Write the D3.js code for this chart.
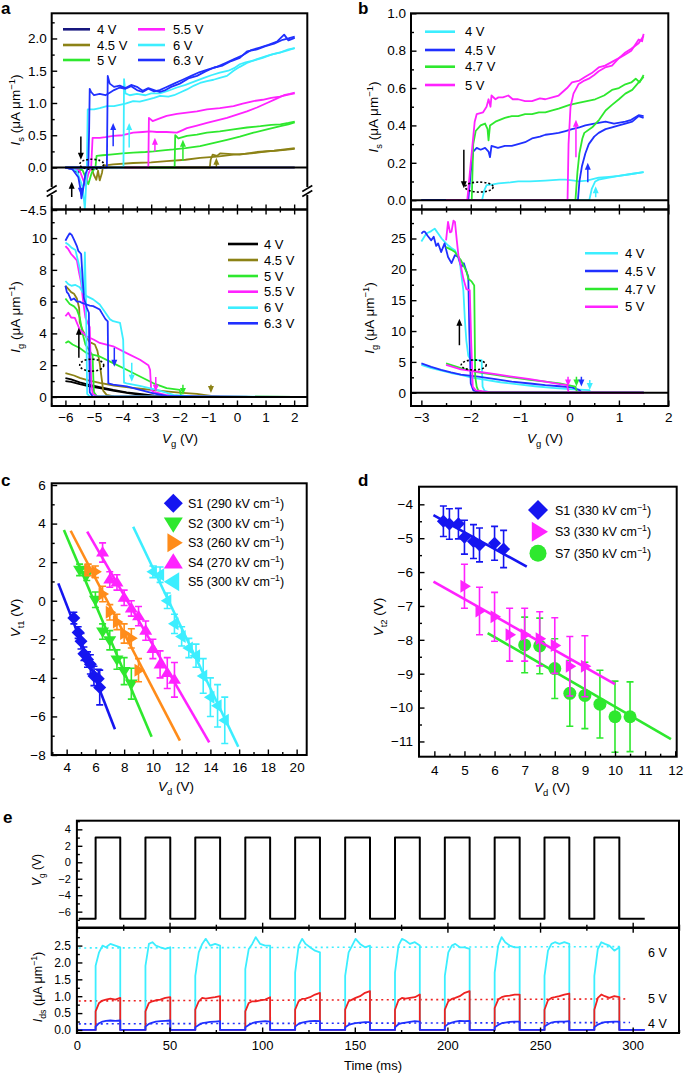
<!DOCTYPE html>
<html>
<head>
<meta charset="utf-8">
<script src="https://cdn.jsdelivr.net/npm/d3@7"></script>
<style>
  body { margin: 0; background: #fff; }
  text { font-family: "Liberation Sans", Arial, Helvetica, sans-serif; }
</style>
</head>
<body>
<div id="chart"></div>
<script>
// ---------- colours ----------
var cNavy = "#16167e", cOlive = "#8c8216", cGreen = "#2ee82e", cMagenta = "#ff22ff",
    cCyan = "#3ceeff", cBlue = "#2030ff", cOrange = "#ff8c1a", cRed = "#ee2222";

// ---------- panel a, I_s vs V_g (two sweep branches per drain bias) ----------
var aIs4 = [[-6,0],[-5.75,-0.02],[-5.55,-0.08],[-5.4,0],[2.02,0]];
var aIs45A = [[-6,0],[-5.1,0],[-5.0,-0.12],[-4.92,-0.19],[-4.86,-0.05],[-4.8,-0.2],[-4.72,-0.08],[-4.68,0.03],[-4.33,0.05],[-3.63,0.07],[-3.0,0.08],[-2.46,0.1],[-1.8,0.12],[-1.29,0.15],[-0.7,0.17],[-0.12,0.2],[0.5,0.22],[1.05,0.25],[1.6,0.27],[2.02,0.29]];
var aIs45B = [[-6,0],[-0.95,0],[-0.92,0.12],[-0.85,0.2],[-0.7,0.18],[-0.58,0.22],[0.1,0.2],[0.7,0.24],[1.3,0.26],[2.02,0.3]];
var aIs5A = [[-6,0],[-5.4,-0.04],[-5.2,-0.26],[-5.08,-0.08],[-4.95,0],[-4.91,0.18],[-4.7,0.19],[-4.44,0.2],[-4.0,0.22],[-3.63,0.23],[-3.2,0.24],[-2.92,0.25],[-2.5,0.27],[-2.22,0.28],[-1.8,0.3],[-1.29,0.33],[-0.8,0.38],[-0.35,0.43],[0.1,0.48],[0.58,0.54],[1.05,0.59],[1.52,0.64],[1.8,0.67],[2.02,0.7]];
var aIs5B = [[-6,0],[-2.18,0],[-2.16,0.5],[-2.05,0.45],[-1.99,0.46],[-1.75,0.49],[-1.4,0.51],[-1.05,0.54],[-0.6,0.56],[-0.12,0.59],[0.35,0.62],[0.82,0.64],[1.2,0.66],[1.52,0.67],[1.8,0.69],[2.02,0.71]];
var aIs55A = [[-6,0],[-5.5,-0.05],[-5.3,-0.28],[-5.2,-0.1],[-5.1,0],[-5.05,0.46],[-4.8,0.46],[-4.6,0.47],[-4.33,0.49],[-4.0,0.5],[-3.63,0.54],[-3.3,0.55],[-3.04,0.56],[-2.8,0.55],[-2.46,0.55],[-2.1,0.54],[-1.9,0.58],[-1.75,0.61],[-1.4,0.65],[-1.05,0.69],[-0.7,0.73],[-0.35,0.77],[0,0.82],[0.35,0.87],[0.7,0.93],[1.05,1.0],[1.35,1.06],[1.64,1.12],[1.85,1.14],[2.02,1.16]];
var aIs55B = [[-6,0],[-3.1,0],[-3.08,0.77],[-2.95,0.72],[-2.7,0.76],[-2.46,0.8],[-2.1,0.83],[-1.75,0.85],[-1.4,0.87],[-1.05,0.9],[-0.6,0.92],[-0.12,0.95],[0.2,0.99],[0.58,1.03],[0.9,1.05],[1.2,1.08],[1.5,1.1],[1.8,1.13],[2.02,1.15]];
var aIs6A = [[-6,0],[-5.6,-0.05],[-5.4,-0.3],[-5.32,-4.3],[-5.28,-0.3],[-5.25,0],[-5.22,0.9],[-5.0,0.9],[-4.8,0.92],[-4.55,0.95],[-4.3,0.95],[-4.1,0.97],[-3.9,0.99],[-3.63,1.03],[-3.4,1.02],[-3.16,1.05],[-2.9,1.08],[-2.69,1.11],[-2.4,1.1],[-2.2,1.12],[-1.95,1.17],[-1.75,1.21],[-1.5,1.27],[-1.29,1.31],[-1.05,1.34],[-0.82,1.36],[-0.6,1.39],[-0.35,1.42],[-0.12,1.5],[0.1,1.56],[0.35,1.62],[0.7,1.68],[1.05,1.73],[1.3,1.76],[1.55,1.79],[1.8,1.83],[2.02,1.85]];
var aIs6B = [[-6,0],[-3.97,0],[-3.95,1.37],[-3.9,1.15],[-3.75,1.12],[-3.5,1.14],[-3.2,1.12],[-3.0,1.15],[-2.7,1.15],[-2.4,1.19],[-2.1,1.24],[-1.8,1.28],[-1.5,1.33],[-1.2,1.38],[-0.9,1.43],[-0.6,1.47],[-0.3,1.5],[-0.1,1.54],[0.1,1.6],[0.3,1.63],[0.6,1.66],[0.9,1.7],[1.2,1.75],[1.5,1.78],[1.8,1.82],[2.02,1.85]];
var aIs63A = [[-6,0],[-5.75,-0.03],[-5.55,-0.15],[-5.47,-0.5],[-5.44,-2.2],[-5.38,-0.4],[-5.3,-0.1],[-5.2,0],[-5.17,0.6],[-5.15,1.22],[-5.1,1.17],[-5.0,1.12],[-4.8,1.14],[-4.6,1.12],[-4.45,1.16],[-4.3,1.2],[-4.1,1.24],[-3.9,1.22],[-3.7,1.26],[-3.5,1.2],[-3.3,1.17],[-3.1,1.22],[-2.9,1.18],[-2.7,1.2],[-2.5,1.24],[-2.2,1.3],[-1.9,1.36],[-1.6,1.42],[-1.3,1.48],[-1.0,1.52],[-0.7,1.56],[-0.4,1.62],[-0.1,1.68],[0.2,1.74],[0.5,1.82],[0.8,1.86],[1.1,1.9],[1.4,1.95],[1.65,2.06],[1.8,1.97],[2.02,2.01]];
var aIs63B = [[-6,0],[-4.55,0],[-4.52,1.42],[-4.45,1.3],[-4.3,1.25],[-4.1,1.27],[-3.9,1.23],[-3.7,1.28],[-3.5,1.25],[-3.3,1.19],[-3.1,1.23],[-2.9,1.2],[-2.7,1.17],[-2.5,1.2],[-2.3,1.25],[-2.0,1.3],[-1.7,1.38],[-1.4,1.42],[-1.1,1.49],[-0.8,1.55],[-0.5,1.58],[-0.2,1.65],[0.1,1.7],[0.35,1.8],[0.7,1.83],[1.0,1.88],[1.3,1.92],[1.6,1.98],[1.8,2.0],[2.02,2.03]];

// ---------- panel a, I_g vs V_g ----------
var aIg4A = [[-6,1.18],[-5.8,1.1],[-5.5,0.92],[-5.2,0.78],[-4.8,0.62],[-4.33,0.44],[-3.86,0.29],[-3.4,0.19],[-2.9,0.08],[-2.4,0.02],[2.02,0]];
var aIg4B = [[-6,1.0],[-5.8,0.95],[-5.5,0.8],[-5.2,0.68],[-4.8,0.55],[-4.3,0.38],[-3.8,0.24],[-3.3,0.12],[-2.8,0.04],[-2.2,0],[2.02,0]];
var aIg45A = [[-6,7.0],[-5.9,6.8],[-5.8,6.6],[-5.7,6.5],[-5.6,6.2],[-5.52,5.6],[-5.5,4.7],[-5.4,4.2],[-5.25,3.7],[-5.15,3.45],[-4.97,3.3],[-4.88,2.9],[-4.8,2.1],[-4.72,1.0],[-4.68,0.4],[-4.56,0.13],[-4.3,0.03],[2.02,0]];
var aIg45B = [[-6,1.5],[-5.7,1.35],[-5.5,1.2],[-5.2,1.05],[-4.8,0.88],[-4.3,0.72],[-3.8,0.6],[-3.3,0.5],[-2.8,0.42],[-2.4,0.34],[-1.9,0.26],[-1.4,0.19],[-1.1,0.12],[-0.9,0.06],[-0.6,0.02],[2.02,0]];
var aIg5A = [[-6,6.2],[-5.85,5.85],[-5.7,5.7],[-5.6,5.5],[-5.5,5.0],[-5.4,4.0],[-5.3,3.3],[-5.15,2.9],[-5.05,2.6],[-5.02,1.0],[-5.0,0.3],[-4.9,0.05],[2.02,0]];
var aIg5B = [[-6,3.4],[-5.9,3.5],[-5.75,3.3],[-5.5,3.08],[-5.26,2.76],[-4.8,2.55],[-4.33,2.13],[-3.86,1.71],[-3.39,1.29],[-2.92,0.86],[-2.46,0.55],[-2.0,0.44],[-1.96,0.1],[-1.9,0.03],[2.02,0]];
var aIg55A = [[-6,9.5],[-5.9,9.3],[-5.8,9.0],[-5.7,8.8],[-5.6,8.6],[-5.52,7.8],[-5.45,7.2],[-5.38,6.0],[-5.3,5.0],[-5.15,4.4],[-5.1,1.0],[-5.05,0.2],[-4.9,0.03],[2.02,0]];
var aIg55B = [[-6,5.08],[-5.9,5.3],[-5.8,5.0],[-5.67,4.98],[-5.5,4.24],[-5.26,3.82],[-5.0,3.6],[-4.8,3.4],[-4.33,3.19],[-3.86,2.76],[-3.39,2.34],[-3.1,2.0],[-3.04,1.71],[-3.0,0.44],[-2.9,0.3],[-2.5,0.13],[-2.0,0.03],[2.02,0]];
var aIg6A = [[-6,9.72],[-5.9,9.6],[-5.79,9.4],[-5.65,9.25],[-5.55,8.5],[-5.5,8.1],[-5.42,7.0],[-5.35,6.5],[-5.32,9.1],[-5.28,6.0],[-5.24,0.2],[-5.15,0.03],[2.02,0]];
var aIg6B = [[-6,7.3],[-5.9,7.1],[-5.79,7.0],[-5.65,7.05],[-5.5,6.9],[-5.4,6.6],[-5.26,6.35],[-5.03,6.14],[-4.8,5.82],[-4.6,5.3],[-4.45,4.9],[-4.33,4.77],[-4.09,4.66],[-3.98,3.6],[-3.95,0.9],[-3.86,0.86],[-3.4,0.7],[-2.8,0.44],[-2.22,0.13],[-1.6,0.03],[2.02,0]];
var aIg63A = [[-6,9.83],[-5.92,10.1],[-5.85,10.3],[-5.78,10.2],[-5.7,9.9],[-5.6,9.5],[-5.55,9.2],[-5.45,9.0],[-5.4,7.5],[-5.35,6.2],[-5.25,5.6],[-5.18,5.3],[-5.15,0.3],[-5.05,0.03],[2.02,0]];
var aIg63B = [[-6,7.0],[-5.95,6.6],[-5.9,6.5],[-5.8,6.1],[-5.7,6.2],[-5.6,6.0],[-5.5,6.0],[-5.4,5.9],[-5.26,5.82],[-5.15,5.75],[-5.03,5.72],[-4.9,5.6],[-4.8,5.5],[-4.7,5.2],[-4.6,4.9],[-4.52,4.75],[-4.5,0.85],[-4.33,0.78],[-3.86,0.66],[-3.39,0.45],[-2.92,0.22],[-2.46,0.06],[-1.3,0.02],[2.02,0]];

// ---------- panel b, I_s vs V_g ----------
var bIs4A = [[-3,0],[-1.77,0],[-1.73,0.05],[-1.68,0.08],[-1.55,0.085],[-1.44,0.09],[-1.2,0.095],[-1.04,0.1],[-0.8,0.1],[-0.49,0.105],[-0.2,0.11],[-0.08,0.11],[0.1,0.105],[0.18,0.1],[0.35,0.105],[0.59,0.12],[0.8,0.125],[1.0,0.13],[1.25,0.14],[1.5,0.15]];
var bIs4B = [[-3,0],[0.4,0],[0.45,0.06],[0.52,0.1],[0.59,0.11],[0.8,0.12],[1.0,0.13],[1.25,0.14],[1.5,0.15]];
var bIs45A = [[-3,0],[-2.05,0],[-2.0,0.15],[-1.95,0.26],[-1.88,0.28],[-1.8,0.27],[-1.71,0.28],[-1.64,0.26],[-1.61,0.23],[-1.58,0.29],[-1.45,0.28],[-1.31,0.29],[-1.17,0.29],[-1.04,0.3],[-0.9,0.31],[-0.76,0.33],[-0.6,0.34],[-0.49,0.35],[-0.35,0.355],[-0.22,0.36],[-0.08,0.37],[0.05,0.38],[0.2,0.39],[0.32,0.4],[0.5,0.41],[0.73,0.42],[0.9,0.41],[1.13,0.42],[1.25,0.43],[1.4,0.455],[1.5,0.45]];
var bIs45B = [[-3,0],[0.17,0],[0.2,0.1],[0.25,0.18],[0.32,0.25],[0.39,0.3],[0.5,0.34],[0.59,0.36],[0.73,0.38],[0.86,0.39],[1.0,0.4],[1.13,0.41],[1.27,0.42],[1.4,0.45],[1.5,0.44]];
var bIs47A = [[-2.5,0],[-1.98,0],[-1.95,0.3],[-1.9,0.37],[-1.8,0.4],[-1.71,0.41],[-1.66,0.38],[-1.64,0.32],[-1.61,0.4],[-1.5,0.42],[-1.31,0.44],[-1.17,0.45],[-1.04,0.45],[-0.9,0.46],[-0.76,0.46],[-0.62,0.47],[-0.49,0.47],[-0.35,0.48],[-0.22,0.49],[0,0.51],[0.18,0.52],[0.35,0.53],[0.52,0.54],[0.7,0.56],[0.86,0.59],[1.0,0.6],[1.13,0.62],[1.25,0.63],[1.34,0.65],[1.42,0.63],[1.5,0.67]];
var bIs47B = [[-2.5,0],[0.12,0],[0.16,0.15],[0.2,0.25],[0.26,0.33],[0.3,0.36],[0.46,0.39],[0.6,0.43],[0.73,0.48],[0.86,0.51],[1.0,0.54],[1.13,0.57],[1.27,0.59],[1.4,0.63],[1.5,0.66]];
var bIs5A = [[-2.5,0],[-2.07,0],[-2.0,0.2],[-1.92,0.42],[-1.88,0.46],[-1.75,0.47],[-1.68,0.5],[-1.64,0.54],[-1.6,0.5],[-1.58,0.56],[-1.5,0.54],[-1.44,0.55],[-1.35,0.55],[-1.24,0.56],[-1.15,0.54],[-1.04,0.54],[-0.9,0.53],[-0.76,0.53],[-0.6,0.545],[-0.49,0.54],[-0.35,0.55],[-0.22,0.56],[-0.05,0.6],[0.05,0.63],[0.2,0.64],[0.32,0.66],[0.45,0.68],[0.59,0.71],[0.72,0.72],[0.86,0.74],[1.0,0.76],[1.13,0.78],[1.25,0.8],[1.4,0.86],[1.47,0.85],[1.5,0.89]];
var bIs5B = [[-2.5,0],[-0.04,0],[-0.02,0.3],[0.02,0.5],[0.08,0.57],[0.18,0.62],[0.3,0.64],[0.39,0.65],[0.5,0.67],[0.59,0.69],[0.72,0.71],[0.86,0.72],[1.0,0.76],[1.13,0.79],[1.25,0.81],[1.4,0.84],[1.5,0.88]];

// ---------- panel b, I_g vs V_g ----------
var bIg4A = [[-3,24.5],[-2.9,25.8],[-2.8,26.2],[-2.73,26.6],[-2.66,25.8],[-2.59,25.0],[-2.5,24.2],[-2.46,23.9],[-2.4,23.5],[-2.32,23.1],[-2.26,22.0],[-2.22,21.0],[-2.18,18.5],[-2.15,16.6],[-2.12,12],[-2.09,8.5],[-2.05,6.0],[-2.0,5.3],[-1.9,5.3],[-1.78,5.3],[-1.76,1.0],[-1.72,0.3],[-1.6,0.05],[1.5,0]];
var bIg4B = [[-3,4.5],[-2.8,4.0],[-2.59,3.6],[-2.4,3.2],[-2.2,2.9],[-2.0,2.5],[-1.7,2.1],[-1.4,1.7],[-1.04,1.35],[-0.7,1.05],[-0.35,0.8],[0,0.6],[0.2,0.5],[0.4,0.42],[0.43,0.05],[0.5,0],[1.5,0]];
var bIg45A = [[-3,25.8],[-2.96,26.1],[-2.93,26.1],[-2.87,25.4],[-2.8,24.7],[-2.75,25.3],[-2.7,23.8],[-2.66,24.2],[-2.6,22.8],[-2.53,24.2],[-2.46,22.0],[-2.39,21.0],[-2.32,22.3],[-2.25,22.0],[-2.19,20.4],[-2.14,21.0],[-2.08,19.5],[-2.05,18.8],[-2.03,10.2],[-2.0,1.5],[-1.95,0.4],[-1.8,0.05],[1.5,0]];
var bIg45B = [[-3,4.75],[-2.8,4.2],[-2.6,3.7],[-2.4,3.3],[-2.2,2.95],[-1.85,2.6],[-1.5,2.2],[-1.17,1.8],[-0.8,1.5],[-0.49,1.24],[-0.2,1.05],[0.05,0.86],[0.2,0.43],[0.25,0],[1.5,0]];
var bIg47A = [[-2.5,23.6],[-2.4,23.2],[-2.32,22.8],[-2.25,22.0],[-2.2,21.5],[-2.15,20.7],[-2.08,19.5],[-2.05,18.5],[-1.98,18.0],[-1.93,17.4],[-1.91,2.6],[-1.88,1.0],[-1.85,0.4],[-1.75,0.05],[1.5,0]];
var bIg47B = [[-2.5,4.75],[-2.2,4.0],[-1.85,3.3],[-1.5,2.9],[-1.17,2.5],[-0.8,2.1],[-0.49,1.8],[-0.2,1.5],[0.12,1.0],[0.15,0.1],[0.2,0],[1.5,0]];
var bIg5A = [[-2.5,24.7],[-2.46,27.7],[-2.42,26.0],[-2.39,26.1],[-2.35,27.9],[-2.32,27.7],[-2.28,24.5],[-2.25,22.3],[-2.2,20.5],[-2.15,18.5],[-2.09,16.8],[-2.02,16.6],[-1.99,8.0],[-1.96,1.0],[-1.9,0.4],[-1.6,0.05],[1.5,0]];
var bIg5B = [[-2.5,4.5],[-2.2,3.8],[-1.85,3.4],[-1.5,3.0],[-1.17,2.6],[-0.8,2.2],[-0.49,1.8],[-0.2,1.4],[-0.05,1.24],[-0.02,0.1],[0.05,0],[1.5,0]];

// ---------- panel c, V_t1 vs V_d ----------
var cS1x = [4.5, 4.8, 5.0, 5.2, 5.45, 5.65, 5.9, 6.2, 6.3];
var cS1y = [-0.9, -1.65, -2.1, -2.75, -3.05, -3.3, -3.9, -4.05, -4.5];
var cS1e = [0.3, 0.3, 0.4, 0.35, 0.4, 0.5, 0.5, 0.5, 0.9];
var cS1fit = [[3.42, 0.9], [7.36, -6.66]];
var cS2x = [4.9, 5.4, 6.0, 6.5, 7.0, 7.5, 8.0, 8.5];
var cS2y = [1.6, 1.35, 0.05, -1.6, -2.05, -3.05, -3.65, -4.3];
var cS2e = [0.3, 0.3, 0.4, 0.4, 0.5, 0.5, 0.7, 0.8];
var cS2fit = [[3.81, 3.67], [9.91, -7.05]];
var cS3x = [5.5, 6.0, 6.5, 7.0, 7.5, 8.0, 8.5, 9.0];
var cS3y = [1.6, 1.5, 0.35, -0.6, -1.1, -1.7, -1.95, -3.6];
var cS3e = [0.3, 0.3, 0.4, 0.4, 0.4, 0.5, 0.5, 0.6];
var cS3fit = [[4.28, 3.63], [11.88, -7.25]];
var cS4x = [6.5, 7.0, 7.5, 8.0, 8.5, 9.0, 9.5, 10.0, 10.5, 11.0, 11.5];
var cS4y = [2.5, 1.1, 0.95, 0.15, -0.4, -0.8, -1.55, -2.5, -3.3, -3.75, -4.1];
var cS4e = [0.5, 0.4, 0.4, 0.4, 0.4, 0.5, 0.5, 0.5, 0.7, 0.8, 0.9];
var cS4fit = [[5.43, 3.58], [13.92, -7.35]];
var cS5x = [10.0, 10.5, 11.0, 11.5, 12.0, 12.5, 13.0, 13.5, 14.0, 14.5, 15.0];
var cS5y = [1.5, 1.35, 0.0, -1.2, -1.85, -2.45, -2.85, -3.9, -5.0, -5.45, -6.2];
var cS5e = [0.3, 0.4, 0.4, 0.5, 0.5, 0.5, 0.6, 0.9, 1.0, 1.1, 1.2];
var cS5fit = [[8.63, 3.84], [15.94, -7.57]];
var cLegend = ["S1 (290 kV cm", "S2 (300 kV cm", "S3 (260 kV cm", "S4 (270 kV cm", "S5 (300 kV cm"];

// ---------- panel d, V_t2 vs V_d ----------
var dS1x = [4.3, 4.5, 4.8, 5.0, 5.3, 5.5, 6.0, 6.3];
var dS1y = [-4.5, -4.58, -4.57, -4.97, -5.1, -5.2, -5.15, -5.32];
var dS1e = [0.45, 0.45, 0.45, 0.5, 0.5, 0.5, 0.5, 0.55];
var dS1fit = [[3.97, -4.32], [7.07, -5.84]];
var dS3x = [5.0, 5.5, 6.0, 6.5, 7.0, 7.5, 8.0, 8.5, 9.0];
var dS3y = [-6.42, -7.15, -7.32, -7.85, -7.85, -7.97, -8.17, -8.78, -8.78];
var dS3e = [0.65, 0.7, 0.72, 0.78, 0.78, 0.8, 0.82, 0.88, 0.9];
var dS3fit = [[3.97, -6.28], [10.0, -9.31]];
var dS7x = [7.0, 7.5, 8.0, 8.5, 9.0, 9.5, 10.0, 10.5];
var dS7y = [-8.15, -8.18, -8.85, -9.58, -9.64, -9.9, -10.27, -10.27];
var dS7e = [0.82, 0.82, 0.88, 0.97, 0.98, 1.0, 1.05, 1.03];
var dS7fit = [[5.77, -7.8], [11.86, -10.93]];
var dLegend = ["S1 (330 kV cm", "S3 (330 kV cm", "S7 (350 kV cm"];

// ---------- panel e, pulse train ----------
var pulseStart = [10.1, 37.0, 63.9, 90.9, 117.8, 144.8, 171.7, 198.6, 225.5, 252.4, 279.3];
var pulseEnd = [23.4, 50.4, 77.3, 104.3, 131.2, 158.2, 185.1, 212.0, 239.0, 265.8, 292.8];
var vgHigh = 3, vgLow = -6.85;
var ids6 = [[1.9,2.3,2.5,2.45,2.55,2.5,2.45],[1.9,2.55,2.6,2.5,2.45,2.4,2.45],[1.6,2.3,2.55,2.7,2.5,2.55,2.5],
            [1.8,2.4,2.55,2.75,2.55,2.5,2.5],[1.7,2.5,2.7,2.55,2.45,2.35,2.3],[1.6,2.3,2.5,2.7,2.55,2.45,2.5],
            [1.7,2.5,2.7,2.65,2.55,2.6,2.5],[1.6,2.3,2.5,2.55,2.45,2.45,2.4],[1.7,2.5,2.75,2.6,2.5,2.45,2.45],
            [1.6,2.35,2.55,2.6,2.55,2.6,2.55],[1.6,2.4,2.6,2.55,2.5,2.35,2.45]];
var ids5 = [[0.55,0.8,0.87,0.9,0.93,0.9,0.95],[0.55,0.8,0.85,0.88,0.9,0.95,0.97],[0.6,0.85,0.95,0.93,0.95,0.97,1.0],
            [0.55,0.8,0.85,0.85,0.88,0.9,0.97],[0.6,0.85,0.92,0.93,0.97,1.05,1.1],[0.6,0.85,0.9,0.95,1.0,1.1,1.15],
            [0.6,0.88,0.95,0.93,0.95,0.97,1.05],[0.6,0.85,0.92,0.95,1.0,1.1,1.15],[0.65,0.9,0.97,1.0,1.02,1.05,1.05],
            [0.6,0.88,0.95,0.97,1.0,1.05,1.08],[0.6,0.95,1.05,1.0,0.95,1.0,0.97]];
var ids4 = [[0.1,0.2,0.25,0.27,0.28,0.27,0.28],[0.1,0.18,0.22,0.25,0.26,0.27,0.28],[0.08,0.15,0.2,0.22,0.24,0.25,0.26],
            [0.08,0.15,0.2,0.23,0.25,0.26,0.25],[0.1,0.18,0.22,0.24,0.26,0.27,0.26],[0.08,0.15,0.18,0.2,0.22,0.23,0.23],
            [0.08,0.17,0.2,0.22,0.24,0.26,0.25],[0.1,0.18,0.22,0.25,0.27,0.26,0.27],[0.08,0.15,0.2,0.22,0.24,0.25,0.25],
            [0.1,0.17,0.22,0.24,0.25,0.25,0.26],[0.08,0.16,0.2,0.23,0.24,0.25,0.25]];
var eRefLines = [{ v: [2.43, 2.47], end: 294, color: cCyan, label: "6 V", labelAt: 2.15 },
                 { v: [0.86, 0.92], end: 297.5, color: cRed, label: "5 V", labelAt: 0.8 },
                 { v: [0.18, 0.22], end: 298.6, color: cBlue, label: "4 V", labelAt: 0.05 }];

// ---------- svg ----------
var svg = d3.select("#chart").append("svg")
  .attr("width", 685)
  .attr("height", 1074);

// scales
var xA = d3.scaleLinear().domain([-6.48, 2.46]).range([51.7, 307.3]);
var yAtop = d3.scaleLinear().domain([-4.5, -0.33, 2.39]).range([210, 188.8, 13.3]);
var yAbot = d3.scaleLinear().domain([-0.57, 11.8]).range([406, 209.5]);
var xB = d3.scaleLinear().domain([-3.21, 2.0]).range([411, 668.3]);
var yBtop = d3.scaleLinear().domain([-0.05, 1.0]).range([209.5, 13.3]);
var yBbot = d3.scaleLinear().domain([-2.15, 29.7]).range([406, 209.5]);
var xC = d3.scaleLinear().domain([2.96, 20.7]).range([51.7, 306.7]);
var yC = d3.scaleLinear().domain([-8, 6.09]).range([755, 483.3]);
var xD = d3.scaleLinear().domain([3.49, 12.05]).range([419, 676.7]);
var yD = d3.scaleLinear().domain([-11.45, -3.48]).range([756.7, 486.7]);
var xE = d3.scaleLinear().domain([0, 325]).range([76.9, 679]);
var yEtop = d3.scaleLinear().domain([-7.95, 5.05]).range([927.7, 820.7]);
var yEbot = d3.scaleLinear().domain([-0.09, 3.03]).range([1033, 927.7]);

// ---------- helpers ----------
function clipRect(id, x0, y0, x1, y1) {
  svg.append("clipPath").attr("id", id).append("rect")
    .attr("x", x0).attr("y", y0).attr("width", x1 - x0).attr("height", y1 - y0);
  return svg.append("g").attr("clip-path", "url(#" + id + ")");
}

function styleAxis(g, size) {
  g.select(".domain").remove();
  g.attr("font-family", '"Liberation Sans", Arial, Helvetica, sans-serif').attr("font-size", size);
  g.selectAll("line").attr("stroke-width", 1.4);
}

function leftAxis(scale, x, major, minor, fmt, pad, size) {
  svg.append("g").attr("transform", `translate(${x},0)`)
    .call(d3.axisLeft(scale).tickValues(minor).tickSize(-3).tickFormat(""))
    .call(g => styleAxis(g, size));
  svg.append("g").attr("transform", `translate(${x},0)`)
    .call(d3.axisLeft(scale).tickValues(major).tickSize(-5.5).tickPadding(pad).tickFormat(fmt))
    .call(g => styleAxis(g, size));
}

function bottomAxis(scale, y, major, minor, fmt, pad, size) {
  svg.append("g").attr("transform", `translate(0,${y})`)
    .call(d3.axisBottom(scale).tickValues(minor).tickSize(-3).tickFormat(""))
    .call(g => styleAxis(g, size));
  svg.append("g").attr("transform", `translate(0,${y})`)
    .call(d3.axisBottom(scale).tickValues(major).tickSize(-5.5).tickPadding(pad).tickFormat(fmt))
    .call(g => styleAxis(g, size));
}

// ticks that cross a shared separator line
function crossTicks(scale, y, major, minor) {
  [[major, 5], [major, -5], [minor, 3], [minor, -3]].forEach(function(t) {
    svg.append("g").attr("transform", `translate(0,${y})`)
      .call(d3.axisBottom(scale).tickValues(t[0]).tickSize(t[1]).tickFormat(""))
      .call(g => styleAxis(g, 10));
  });
}

function frame(x0, y0, x1, y1) {
  svg.append("rect").attr("x", x0).attr("y", y0)
    .attr("width", x1 - x0).attr("height", y1 - y0)
    .attr("fill", "none").attr("stroke", "#000").attr("stroke-width", 2);
}

function hline(x0, x1, y, w) {
  svg.append("line").attr("x1", x0).attr("x2", x1).attr("y1", y).attr("y2", y)
    .attr("stroke", "#000").attr("stroke-width", w || 2);
}

// text made of parts: [string, style] with style "i", "sub", "sup"
function richText(x, y, parts, size, rotate, anchor, weight) {
  var t = svg.append("text").attr("x", x).attr("y", y)
    .attr("font-size", size).attr("text-anchor", anchor || "middle");
  if (weight) t.attr("font-weight", weight);
  if (rotate) t.attr("transform", `rotate(-90,${x},${y})`);
  var shift = 0;
  parts.forEach(function(p) {
    var s = t.append("tspan").text(p[0]);
    var want = p[1] === "sub" ? 0.32 * size : (p[1] === "sup" ? -0.4 * size : 0);
    if (want !== shift) { s.attr("dy", want - shift); shift = want; }
    if (p[1] === "sub" || p[1] === "sup") s.attr("font-size", size * 0.7);
    if (p[1] === "i") s.attr("font-style", "italic");
  });
  return t;
}

function curve(g, data, x, y, color, w) {
  g.append("path").datum(data)
    .attr("fill", "none").attr("stroke", color).attr("stroke-width", w || 1.8)
    .attr("stroke-linejoin", "round")
    .attr("d", d3.line().x(d => x(d[0])).y(d => y(d[1])));
}

function arrow(g, x, y, xv, y1, y2, color) {
  var px = x(xv), a = y(y1), b = y(y2), dir = b > a ? 1 : -1;
  g.append("line").attr("x1", px).attr("x2", px).attr("y1", a).attr("y2", b - dir * 5)
    .attr("stroke", color).attr("stroke-width", 1.5);
  g.append("path").attr("d", `M${px - 3},${b - dir * 7}L${px + 3},${b - dir * 7}L${px},${b}Z`)
    .attr("fill", color);
}

function dottedEllipse(g, x, y, xv, yv, rx, ry) {
  g.append("ellipse").attr("cx", x(xv)).attr("cy", y(yv)).attr("rx", rx).attr("ry", ry)
    .attr("fill", "none").attr("stroke", "#000").attr("stroke-width", 1.6)
    .attr("stroke-dasharray", "2,2");
}

function lineLegend(x0, x1, tx, rows, size) {
  rows.forEach(function(r) {
    svg.append("line").attr("x1", x0).attr("x2", x1).attr("y1", r.y).attr("y2", r.y)
      .attr("stroke", r.color).attr("stroke-width", 2.6);
    svg.append("text").attr("x", tx).attr("y", r.y + 4.5).attr("font-size", size).text(r.text);
  });
}

function breakMark(x, y) {
  svg.append("rect").attr("x", x - 3).attr("y", y - 4).attr("width", 6).attr("height", 8).attr("fill", "#fff");
  [-2.5, 2.5].forEach(function(o) {
    svg.append("line").attr("x1", x - 5).attr("x2", x + 5).attr("y1", y + o + 3).attr("y2", y + o - 3)
      .attr("stroke", "#000").attr("stroke-width", 1.6);
  });
}

var markerPath = {
  diamond: r => `M0,${-r}L${r},0L0,${r}L${-r},0Z`,
  down: r => `M${-r},${-r * 0.62}L${r},${-r * 0.62}L0,${r}Z`,
  up: r => `M${-r},${r * 0.62}L${r},${r * 0.62}L0,${-r}Z`,
  right: r => `M${-r * 0.62},${-r}L${-r * 0.62},${r}L${r},0Z`,
  left: r => `M${r * 0.62},${-r}L${r * 0.62},${r}L${-r},0Z`,
  circle: r => `M${-r},0A${r},${r} 0 1,0 ${r},0A${r},${r} 0 1,0 ${-r},0Z`
};

function scatterSeries(g, x, y, xs, ys, es, fit, color, shape, r) {
  g.append("line")
    .attr("x1", x(fit[0][0])).attr("y1", y(fit[0][1]))
    .attr("x2", x(fit[1][0])).attr("y2", y(fit[1][1]))
    .attr("stroke", color).attr("stroke-width", 2.6);
  xs.forEach(function(v, i) {
    var px = x(v), lo = y(ys[i] - es[i]), hi = y(ys[i] + es[i]);
    g.append("line").attr("x1", px).attr("x2", px).attr("y1", lo).attr("y2", hi)
      .attr("stroke", color).attr("stroke-width", 1.6);
    [lo, hi].forEach(function(c) {
      g.append("line").attr("x1", px - 3.5).attr("x2", px + 3.5).attr("y1", c).attr("y2", c)
        .attr("stroke", color).attr("stroke-width", 1.6);
    });
  });
  g.selectAll(null).data(xs).enter().append("path")
    .attr("transform", (d, i) => `translate(${x(d)},${y(ys[i])})`)
    .attr("d", markerPath[shape](r))
    .attr("fill", color);
}

function markerLegend(mx, tx, rows, size) {
  rows.forEach(function(r) {
    svg.append("path").attr("transform", `translate(${mx},${r.y})`)
      .attr("d", markerPath[r.shape](r.r)).attr("fill", r.color);
    richText(tx, r.y + 4.5, [[r.text], ["−1", "sup"], [")"]], size, false, "start");
  });
}

var fmt1 = d3.format(".1f"), fmtD = d3.format("d");
var tickFont = 13.5, titleFont = 13.5;
var isTitle = [["I", "i"], ["s", "sub"], [" (μA μm"], ["−1", "sup"], [")"]];
var igTitle = [["I", "i"], ["g", "sub"], [" (μA μm"], ["−1", "sup"], [")"]];
var vgTitle = [["V", "i"], ["g", "sub"], [" (V)"]];
var vdTitle = [["V", "i"], ["d", "sub"], [" (V)"]];

// ================= panel a =================
var gAtop = clipRect("clipAtop", 51.7, 13.3, 307.3, 209.5);
hline(51.7, 307.3, yAtop(0));
[[aIs4, cNavy], [aIs45A, cOlive], [aIs45B, cOlive], [aIs5A, cGreen], [aIs5B, cGreen],
 [aIs55A, cMagenta], [aIs55B, cMagenta], [aIs6A, cCyan], [aIs6B, cCyan],
 [aIs63A, cBlue], [aIs63B, cBlue]].forEach(s => curve(gAtop, s[0], xA, yAtop, s[1]));
arrow(gAtop, xA, yAtop, -5.46, 0.48, 0.12, "#000");
arrow(gAtop, xA, yAtop, -5.78, -1.94, -0.22, "#000");
arrow(gAtop, xA, yAtop, -4.33, 0.33, 0.69, cBlue);
arrow(gAtop, xA, yAtop, -3.77, 0.31, 0.69, cCyan);
arrow(gAtop, xA, yAtop, -2.87, 0.25, 0.46, cMagenta);
arrow(gAtop, xA, yAtop, -1.89, 0.1, 0.43, cGreen);
arrow(gAtop, xA, yAtop, -0.72, 0.0, 0.15, cOlive);
arrow(gAtop, xA, yAtop, -5.46, -0.6, -1.5, cBlue);
dottedEllipse(gAtop, xA, yAtop, -5.08, 0.05, 12, 5);

var gAbot = clipRect("clipAbot", 51.7, 209.5, 307.3, 406);
hline(51.7, 307.3, yAbot(0));
[[aIg4A, "#000"], [aIg4B, "#000"], [aIg45A, cOlive], [aIg45B, cOlive], [aIg5A, cGreen], [aIg5B, cGreen],
 [aIg55A, cMagenta], [aIg55B, cMagenta], [aIg6A, cCyan], [aIg6B, cCyan],
 [aIg63A, cBlue], [aIg63B, cBlue]].forEach(s => curve(gAbot, s[0], xA, yAbot, s[1]));
arrow(gAbot, xA, yAbot, -5.53, 2.46, 4.36, "#000");
arrow(gAbot, xA, yAbot, -4.29, 3.1, 1.9, cBlue);
arrow(gAbot, xA, yAbot, -3.68, 2.15, 0.95, cCyan);
arrow(gAbot, xA, yAbot, -2.84, 1.26, 0.32, cMagenta);
arrow(gAbot, xA, yAbot, -1.89, 0.76, 0.13, cGreen);
arrow(gAbot, xA, yAbot, -0.91, 0.76, 0.25, cOlive);
dottedEllipse(gAbot, xA, yAbot, -5.08, 2.0, 12, 6);

frame(51.7, 13.3, 307.3, 406);
hline(51.7, 307.3, 209.5, 2.5);
leftAxis(yAtop, 51.7, [0, 0.5, 1, 1.5, 2], [0.25, 0.75, 1.25, 1.75, 2.25], fmt1, 5, tickFont);
leftAxis(yAtop, 51.7, [-4.5], [], fmt1, 5, tickFont);
leftAxis(yAbot, 51.7, [0, 2, 4, 6, 8, 10], [1, 3, 5, 7, 9, 11], fmtD, 5, tickFont);
bottomAxis(xA, 406, d3.range(-6, 2.01, 1), d3.range(-6.5, 2.5, 1), fmtD, 6, tickFont);
crossTicks(xA, 209.5, d3.range(-6, 2.01, 1), d3.range(-6.5, 2.5, 1));
breakMark(51.7, 191);
breakMark(307.3, 191);
richText(20, 110, isTitle, titleFont, true);
richText(20, 317, igTitle, titleFont, true);
richText(180, 443, vgTitle, titleFont, false);
lineLegend(63, 90, 97, [{ y: 29.3, color: cNavy, text: "4 V" }, { y: 45, color: cOlive, text: "4.5 V" },
  { y: 60, color: cGreen, text: "5 V" }], 13);
lineLegend(138, 165, 173, [{ y: 29.3, color: cMagenta, text: "5.5 V" }, { y: 45, color: cCyan, text: "6 V" },
  { y: 60, color: cBlue, text: "6.3 V" }], 13);
lineLegend(228, 258, 264, [{ y: 244, color: "#000", text: "4 V" }, { y: 260, color: cOlive, text: "4.5 V" },
  { y: 276, color: cGreen, text: "5 V" }, { y: 291.7, color: cMagenta, text: "5.5 V" },
  { y: 307.7, color: cCyan, text: "6 V" }, { y: 323.3, color: cBlue, text: "6.3 V" }], 13);

// ================= panel b =================
var gBtop = clipRect("clipBtop", 411, 13.3, 668.3, 209.5);
hline(411, 668.3, yBtop(0));
[[bIs4A, cCyan], [bIs4B, cCyan], [bIs45A, cBlue], [bIs45B, cBlue], [bIs47A, cGreen], [bIs47B, cGreen],
 [bIs5A, cMagenta], [bIs5B, cMagenta]].forEach(s => curve(gBtop, s[0], xB, yBtop, s[1]));
arrow(gBtop, xB, yBtop, -2.14, 0.27, 0.064, "#000");
arrow(gBtop, xB, yBtop, 0.13, 0.23, 0.43, cMagenta);
arrow(gBtop, xB, yBtop, 0.37, 0.096, 0.2, cBlue);
arrow(gBtop, xB, yBtop, 0.53, 0.016, 0.075, cCyan);
dottedEllipse(gBtop, xB, yBtop, -1.83, 0.07, 14, 5);

var gBbot = clipRect("clipBbot", 411, 209.5, 668.3, 406);
hline(411, 668.3, yBbot(0));
[[bIg4A, cCyan], [bIg4B, cCyan], [bIg45A, cBlue], [bIg45B, cBlue], [bIg47A, cGreen], [bIg47B, cGreen],
 [bIg5A, cMagenta], [bIg5B, cMagenta]].forEach(s => curve(gBbot, s[0], xB, yBbot, s[1]));
arrow(gBbot, xB, yBbot, -2.23, 7.7, 12.0, "#000");
arrow(gBbot, xB, yBbot, -0.03, 2.6, 1.0, cMagenta);
arrow(gBbot, xB, yBbot, 0.14, 2.6, 1.0, cGreen);
arrow(gBbot, xB, yBbot, 0.24, 2.6, 1.0, cBlue);
arrow(gBbot, xB, yBbot, 0.41, 2.05, 0.45, cCyan);
dottedEllipse(gBbot, xB, yBbot, -1.94, 4.5, 12.5, 5);

frame(411, 13.3, 668.3, 406);
hline(411, 668.3, 209.5, 2.5);
leftAxis(yBtop, 411, [0, 0.2, 0.4, 0.6, 0.8, 1.0], [0.1, 0.3, 0.5, 0.7, 0.9], fmt1, 5, tickFont);
leftAxis(yBbot, 411, [0, 5, 10, 15, 20, 25], [2.5, 7.5, 12.5, 17.5, 22.5, 27.5], fmtD, 5, tickFont);
bottomAxis(xB, 406, d3.range(-3, 2.01, 1), d3.range(-2.5, 2, 1), fmtD, 6, tickFont);
crossTicks(xB, 209.5, d3.range(-3, 2.01, 1), d3.range(-2.5, 2, 1));
richText(378, 117, isTitle, titleFont, true);
richText(374, 318, igTitle, titleFont, true);
richText(545, 443, vgTitle, titleFont, false);
lineLegend(425, 455, 465, [{ y: 31.7, color: cCyan, text: "4 V" }, { y: 50, color: cBlue, text: "4.5 V" },
  { y: 66.7, color: cGreen, text: "4.7 V" }, { y: 85, color: cMagenta, text: "5 V" }], 13);
lineLegend(585, 618, 625, [{ y: 253.3, color: cCyan, text: "4 V" }, { y: 271, color: cBlue, text: "4.5 V" },
  { y: 289, color: cGreen, text: "4.7 V" }, { y: 306.7, color: cMagenta, text: "5 V" }], 13);

// ================= panel c =================
var gC = clipRect("clipC", 51.7, 483.3, 306.7, 755);
scatterSeries(gC, xC, yC, cS1x, cS1y, cS1e, cS1fit, "#1515f0", "diamond", 6.5);
scatterSeries(gC, xC, yC, cS2x, cS2y, cS2e, cS2fit, cGreen, "down", 6.5);
scatterSeries(gC, xC, yC, cS3x, cS3y, cS3e, cS3fit, cOrange, "right", 6.5);
scatterSeries(gC, xC, yC, cS4x, cS4y, cS4e, cS4fit, cMagenta, "up", 6.5);
scatterSeries(gC, xC, yC, cS5x, cS5y, cS5e, cS5fit, cCyan, "left", 6.5);
frame(51.7, 483.3, 306.7, 755);
leftAxis(yC, 51.7, d3.range(-8, 6.01, 2), d3.range(-7, 6, 2), fmtD, 6, tickFont);
bottomAxis(xC, 755, d3.range(4, 20.01, 2), d3.range(3, 20.5, 2), fmtD, 7, tickFont);
richText(20, 618, [["V", "i"], ["t1", "sub"], [" (V)"]], titleFont, true);
richText(176, 791, vdTitle, titleFont, false);
markerLegend(173.3, 188, [
  { y: 503.3, shape: "diamond", r: 9.5, color: "#1515f0", text: cLegend[0] },
  { y: 523.3, shape: "down", r: 9.5, color: cGreen, text: cLegend[1] },
  { y: 542.7, shape: "right", r: 9.5, color: cOrange, text: cLegend[2] },
  { y: 562.7, shape: "up", r: 9.5, color: cMagenta, text: cLegend[3] },
  { y: 581.7, shape: "left", r: 9.5, color: cCyan, text: cLegend[4] }], 12.5);

// ================= panel d =================
var gD = clipRect("clipD", 419, 486.7, 676.7, 756.7);
scatterSeries(gD, xD, yD, dS7x, dS7y, dS7e, dS7fit, cGreen, "circle", 6.5);
scatterSeries(gD, xD, yD, dS3x, dS3y, dS3e, dS3fit, cMagenta, "right", 6.5);
scatterSeries(gD, xD, yD, dS1x, dS1y, dS1e, dS1fit, "#1515f0", "diamond", 6.5);
frame(419, 486.7, 676.7, 756.7);
leftAxis(yD, 419, d3.range(-11, -3.99, 1), d3.range(-11, -3.6, 0.5).filter(v => v % 1 !== 0), fmtD, 6, tickFont);
bottomAxis(xD, 756.7, d3.range(4, 12.01, 1), d3.range(4.5, 12, 1), fmtD, 9, tickFont);
richText(383, 617, [["V", "i"], ["t2", "sub"], [" (V)"]], titleFont, true);
richText(552, 792, vdTitle, titleFont, false);
markerLegend(538, 555, [
  { y: 510, shape: "diamond", r: 10, color: "#1515f0", text: dLegend[0] },
  { y: 531.7, shape: "right", r: 10, color: cMagenta, text: dLegend[1] },
  { y: 553.3, shape: "circle", r: 8.5, color: cGreen, text: dLegend[2] }], 12.5);

// ================= panel e =================
// where, inside each pulse, the plateau samples sit (fraction of pulse width)
var eFrac = [0, 0.14, 0.28, 0.42, 0.6, 0.8, 1.0];
function pulseTrace(levels) {
  var pts = [[0.5, 0]];
  pulseStart.forEach(function(t0, i) {
    var t1 = pulseEnd[i];
    pts.push([t0, 0]);
    levels[i].forEach((v, k) => pts.push([t0 + (t1 - t0) * eFrac[k], v]));
    pts.push([t1, 0]);
  });
  pts.push([306.5, 0]);
  return pts;
}
var vgTrace = [[1, vgLow]];
pulseStart.forEach(function(t0, i) {
  vgTrace.push([t0, vgLow], [t0, vgHigh], [pulseEnd[i], vgHigh], [pulseEnd[i], vgLow]);
});
vgTrace.push([306.5, vgLow]);

var gEtop = clipRect("clipEtop", 76.9, 820.7, 679, 927.7);
curve(gEtop, vgTrace, xE, yEtop, "#000", 2);

var gEbot = clipRect("clipEbot", 76.9, 927.7, 679, 1033);
eRefLines.forEach(function(r) {
  gEbot.append("line")
    .attr("x1", xE(1)).attr("x2", xE(r.end))
    .attr("y1", yEbot(r.v[0])).attr("y2", yEbot(r.v[1]))
    .attr("stroke", r.color).attr("stroke-width", 1.6).attr("stroke-dasharray", "2,3.5");
});
curve(gEbot, pulseTrace(ids6), xE, yEbot, cCyan, 1.8);
curve(gEbot, pulseTrace(ids5), xE, yEbot, cRed, 1.8);
curve(gEbot, pulseTrace(ids4), xE, yEbot, cBlue, 1.8);

frame(76.9, 820.7, 679, 1033);
hline(76.9, 679, 927.7, 2.5);
leftAxis(yEtop, 76.9, [-6, -4, -2, 0, 2, 4], [-7, -5, -3, -1, 1, 3, 5], fmtD, 6, 11);
leftAxis(yEbot, 76.9, [0, 0.5, 1, 1.5, 2, 2.5], [0.25, 0.75, 1.25, 1.75, 2.25, 2.75], fmt1, 6, 12);
bottomAxis(xE, 1033, d3.range(0, 301, 50), d3.range(25, 326, 50), fmtD, 8, 13);
crossTicks(xE, 927.7, d3.range(0, 301, 50), d3.range(25, 326, 50));
eRefLines.forEach(function(r) {
  svg.append("text").attr("x", 648).attr("y", yEbot(r.labelAt)).attr("font-size", 12.5).text(r.label);
});
richText(41, 870, vgTitle, 12, true);
richText(42, 987, [["I", "i"], ["ds", "sub"], [" (μA μm"], ["−1", "sup"], [")"]], 12.5, true);
richText(373, 1070, [["Time (ms)"]], 13, false);

// ---------- panel letters ----------
[["a", 1, 14], ["b", 358, 14], ["c", 1, 486], ["d", 358, 486], ["e", 3, 823]].forEach(function(p) {
  svg.append("text").attr("x", p[1]).attr("y", p[2]).attr("font-size", 17)
    .attr("font-weight", "bold").text(p[0]);
});
</script>
</body>
</html>
